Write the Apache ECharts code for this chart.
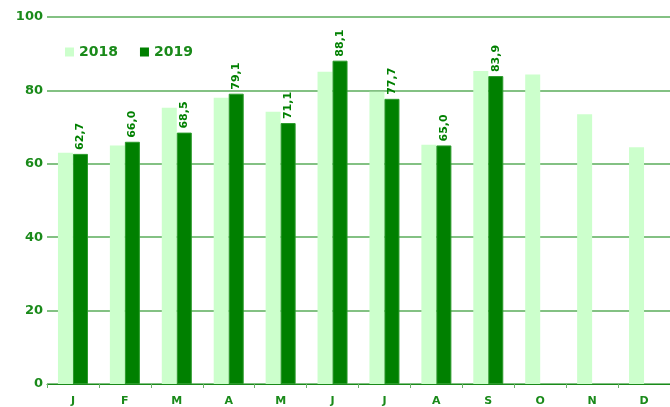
<!DOCTYPE html>
<html><head><meta charset="utf-8">
<script src="https://cdn.jsdelivr.net/npm/echarts@6/dist/echarts.min.js"></script>
<style>html,body{margin:0;padding:0;background:#fff}#c{width:670px;height:407px}</style>
</head><body><div id="c"></div>
<script>
const categories = ['J','F','M','A','M','J','J','A','S','O','N','D'];
const values2018 = [63.0, 65.0, 75.3, 78.0, 74.2, 85.1, 79.6, 65.2, 85.3, 84.3, 73.5, 64.5];
const values2019 = [62.7, 66.0, 68.5, 79.1, 71.1, 88.1, 77.7, 65.0, 83.9, null, null, null];
const yTicks = [0, 20, 40, 60, 80, 100];

const chart = echarts.init(document.getElementById('c'), null, {renderer: 'canvas'});
const font = 'DejaVu Sans';
chart.setOption({
  animation: false,
  grid: {left: 47, right: 0, top: 17, bottom: 22},
  legend: {
    left: 60, top: 40, itemWidth: 9, itemHeight: 9, itemGap: 22,
    icon: 'rect',
    itemStyle: {borderWidth: 0},
    textStyle: {color: '#1a8a1a', fontFamily: font, fontWeight: 'bold', fontSize: 14},
    data: ['2018', '2019']
  },
  xAxis: {
    type: 'category', data: categories,
    axisLine: {lineStyle: {color: '#1a8a1a', width: 1}},
    axisTick: {show: true, lineStyle: {color: '#6ab06a'}, length: 4},
    axisLabel: {color: '#1a8a1a', fontFamily: font, fontWeight: 'bold', fontSize: 11, margin: 12}
  },
  yAxis: {
    type: 'value', min: yTicks[0], max: yTicks[yTicks.length-1], interval: 20,
    axisLine: {show: false}, axisTick: {show: false},
    splitLine: {lineStyle: {color: '#5aac5a', width: 1.5}},
    axisLabel: {color: '#1a8a1a', fontFamily: font, fontWeight: 'bold', fontSize: 13, margin: 4}
  },
  series: [
    {name: '2018', type: 'bar', data: values2018, barWidth: 15, barGap: '0%',
     itemStyle: {color: '#ccffcc'}},
    {name: '2019', type: 'bar', data: values2019, barWidth: 15,
     itemStyle: {color: '#008000', borderColor: '#2a9a2a', borderWidth: 1},
     label: {show: true, position: 'top', rotate: 90, align: 'left', verticalAlign: 'middle',
       distance: 4, color: '#008000', fontFamily: font, fontWeight: 'bold', fontSize: 11,
       formatter: p => p.value.toFixed(1).replace('.', ',')}}
  ]
});
</script></body></html>
